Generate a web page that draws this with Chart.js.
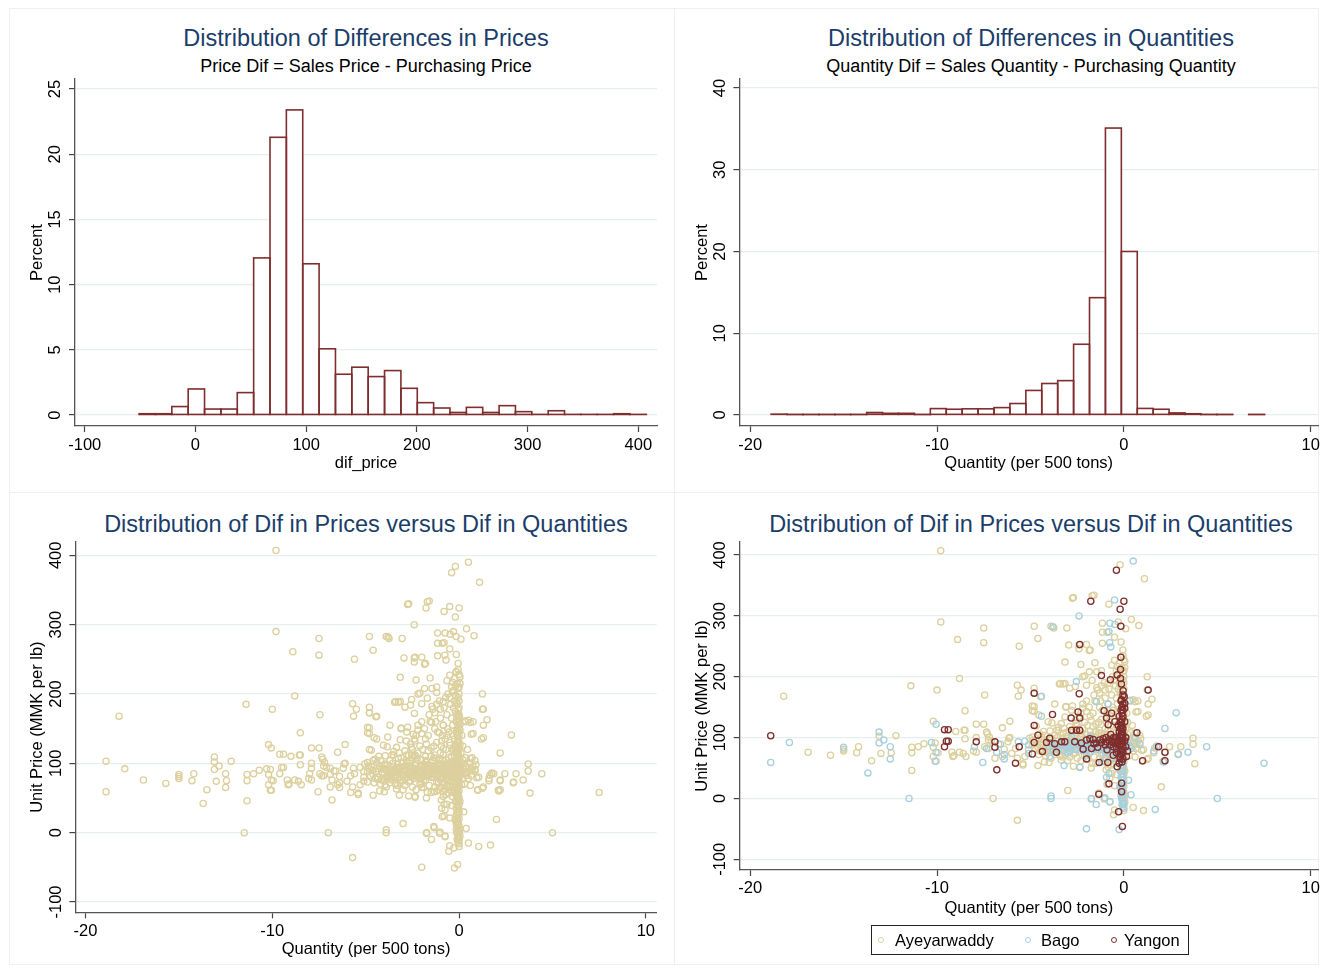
<!DOCTYPE html>
<html>
<head>
<meta charset="utf-8">
<script src="https://cdn.jsdelivr.net/npm/chart.js@4.4.1/dist/chart.umd.min.js"></script>
<style>
  body{margin:0;background:#fff;width:1327px;height:972px;position:relative;overflow:hidden;font-family:'Liberation Sans',Arial,sans-serif;}
  canvas{position:absolute;}
  .frame{position:absolute;box-sizing:border-box;border:1px solid #efefef;}
  .vline{position:absolute;width:1px;background:#efefef;}
  .hline{position:absolute;height:1px;background:#efefef;}
  .ttl{position:absolute;width:700px;text-align:center;color:#1b3d6a;font-size:23.5px;line-height:23.5px;white-space:nowrap;}
  .sub{position:absolute;width:700px;text-align:center;color:#000;font-size:18px;line-height:18px;white-space:nowrap;}
  #legend{position:absolute;left:871px;top:925px;width:318px;height:30px;box-sizing:border-box;border:1px solid #222;}
  #legend span{position:absolute;top:0;line-height:28px;font-size:16.5px;color:#000;}
  #legend i{position:absolute;top:11px;width:6px;height:6px;box-sizing:border-box;border:1.3px solid;border-radius:50%;}
</style>
</head>
<body>
<div class="frame" style="left:9px;top:8px;width:1310px;height:957px"></div>
<div class="vline" style="left:674px;top:8px;height:957px"></div>
<div class="hline" style="left:9px;top:492px;width:1310px"></div>

<div class="ttl" style="left:16px;top:27px">Distribution of Differences in Prices</div>
<div class="sub" style="left:16px;top:57px">Price Dif = Sales Price - Purchasing Price</div>
<div class="ttl" style="left:681px;top:27px">Distribution of Differences in Quantities</div>
<div class="sub" style="left:681px;top:57px">Quantity Dif = Sales Quantity - Purchasing Quantity</div>
<div class="ttl" style="left:16px;top:513px">Distribution of Dif in Prices versus Dif in Quantities</div>
<div class="ttl" style="left:681px;top:513px">Distribution of Dif in Prices versus Dif in Quantities</div>

<canvas id="cPrice" width="665" height="484" style="left:9px;top:8px"></canvas>
<canvas id="cQty" width="653" height="484" style="left:674px;top:8px"></canvas>
<canvas id="cAll" width="665" height="472" style="left:9px;top:492px"></canvas>
<canvas id="cRegion" width="653" height="472" style="left:674px;top:492px"></canvas>

<div id="legend">
  <i style="left:6px;border-color:#dcd09e"></i><span style="left:23px">Ayeyarwaddy</span>
  <i style="left:153px;border-color:#a7d0de"></i><span style="left:169px">Bago</span>
  <i style="left:239px;border-color:#7f2d2d"></i><span style="left:252px">Yangon</span>
</div>

<script>
// ---- data ----
const priceBinMid = [-43.51,-28.73,-13.95,0.83,15.61,30.39,45.17,59.95,74.73,89.51,104.29,119.07,133.85,148.63,163.41,
  178.19,192.97,207.75,222.53,237.31,252.09,266.87,281.65,296.43,311.21,325.99,340.77,355.55,370.33,385.11,399.89];
const pricePct = [0.1,0.1,0.65,2.0,0.46,0.46,1.72,12.05,21.3,23.4,11.6,5.08,3.13,3.67,2.95,
  3.41,2.05,0.95,0.54,0.2,0.59,0.2,0.72,0.26,0.05,0.33,0.05,0.05,0.05,0.1,0.05];

const qtyBinMid = [-18.454,-17.602,-16.75,-15.898,-15.046,-14.194,-13.342,-12.49,-11.638,-10.786,-9.934,-9.082,-8.23,
  -7.378,-6.526,-5.674,-4.822,-3.97,-3.118,-2.266,-1.414,-0.562,0.29,1.142,1.994,2.846,3.698,4.55,5.402,6.254,7.106];
const qtyPct = [0.1,0.05,0.05,0.05,0.05,0.05,0.3,0.2,0.2,0.05,0.78,0.7,0.75,
  0.75,0.9,1.4,3.0,3.85,4.2,8.65,14.35,35.1,20.0,0.8,0.7,0.25,0.15,0.05,0.05,0,0.05];

// [quantity dif, unit price dif]
const ayeyarwaddy = [
  [-9.8,407],[-9.8,290],[-8.9,261],[-7.5,280],[-7.5,256],[-5.6,250],[-4.8,283],[-8.8,197],[-11.4,185],[-10.0,178],
  [-18.2,168],[-7.45,170],[-5.7,186],[-5.5,178],[-5.65,168],[-8.5,144],[-10.2,127],[-7.9,122],[-7.5,122],[-6.1,127],
  [-6.5,116],[-9.0,110],[-8.5,112],[-7.35,109],[-12.2,103],[-8.5,98],[-7.9,100],[-7.2,101],[-6.1,100],[-10.7,90],
  [-11.0,85],[-11.35,84],[-11.35,75],[-14.2,85],[-14.3,75],[-15.0,81],[-15.0,78],[-16.9,76],[-15.7,71],[-13.5,62],
  [-13.0,74],[-12.45,75],[-13.1,102],[-11.35,46],[-10.2,69],[-10.2,84],[-9.2,76],[-9.1,70],[-8.8,76],[-8.6,74],
  [-8.45,69],[-8.05,78],[-7.9,76],[-7.45,85],[-7.1,94],[-6.9,66],[-6.7,89],[-6.4,81],[-6.2,93],[-6.0,74],
  [-5.8,82],[-5.7,66],[-5.4,57],[-5.3,69],[-5.1,80],[-5.05,99],[-4.9,101],[-4.9,144],[-4.9,152],[-4.8,181],
  [-7.0,0],[-5.7,-36],[-10.1,91],[-9.95,75],[-10.05,61],[-9.15,69],[-8.55,112],[-7.3,106],[-7.25,96],[-7.25,82],
  [-6.5,69],[-6.15,99],[-5.4,55],[-4.8,173],[-4.45,167],[-4.8,151],[-4.8,143],[-4.7,119],[-4.6,54],[-3.9,283],
  [-3.75,280],[-3.7,155],[-3.85,124],[-4.0,59],[-3.45,188],[-3.25,188],[-3.15,224],[-3.1,150],[-3.05,280],[-2.95,252],
  [-3.0,13],[-2.75,329],[-2.4,252],[-2.4,246],[-2.3,220],[-2.1,201],[-2.0,253],[-1.85,243],[-1.7,333],[-1.75,-1],
  [-1.55,223],[-1.35,9],[-1.15,288],[-1.15,273],[-0.9,273],[-1.15,255],[-0.8,319],[-0.2,384],[1.1,361],[-2.7,330],
  [-1.6,334],[0.4,294],[0.8,284],[-4.6,263],[-1.8,244],[-0.3,290],[0.1,279],[-0.5,265],[-0.15,257],[-0.05,244],
  [-1.85,208],[-2.2,200],[-1.45,208],[-1.2,210],[-3.4,189],[-3.15,189],[-2.9,181],[-2.6,184],[-2.0,186],[-1.7,194],
  [-1.4,178],[-1.3,173],[-1.0,178],[-0.85,189],[-0.65,219],[-0.5,227],[-0.35,217],[-0.05,208],[1.25,200],[1.5,163],
  [1.3,155],[0.75,160],[0.75,143],[1.3,137],[-3.1,151],[-2.75,152],[-2.2,148],[-2.0,143],[-4.55,137],[-4.05,126],
  [-3.35,123],[-3.15,134],[-4.3,110],[-3.95,111],[-3.5,112],[-3.25,107],[-2.55,123],[-2.35,110],[-1.65,118],[-1.3,112],
  [-1.2,107],[0.5,162],[0.65,91],[0.85,91],[1.05,80],[1.3,66],[2.0,19],[2.45,85],[3.05,85],[3.7,99],
  [3.7,89],[3.8,57],[0.5,-15],[1.05,-20],[-0.55,-27],[-0.5,-19],[-4.25,60],[-3.35,63],[-2.7,53],[-2.35,52],
  [-1.75,50],[-0.95,47],[-0.65,41],[-0.4,39],[1.25,178],[1.2,135],[0.65,142],[0.6,159],[0.35,160],[0.6,107],
  [0.7,89],[0.95,79],[1.0,61],[1.25,64],[1.65,83],[1.75,86],[1.6,75],[2.1,61],[2.2,75],[2.9,72],
  [-0.75,-6],[-1.05,-1],[-0.9,23],[-0.75,33],[-0.5,21],[-0.15,13],
  [-4.9,88],[-4.7,95],[-4.6,84],[-4.5,78],[-4.4,101],[-4.3,92],[-4.2,70],[-4.1,86],[-4.0,97],[-4.0,76],
  [-3.9,90],[-3.8,82],[-3.7,104],[-3.7,72],[-3.6,94],[-3.5,86],[-3.5,117],[-3.4,79],[-3.3,99],[-3.3,68],
  [-3.2,88],[-3.1,108],[-3.1,76],[-3.0,95],[-3.0,84],[-3.0,62],[-2.9,91],[-2.9,118],[-2.8,80],[-2.8,102],
  [-2.7,73],[-2.7,96],[-2.6,86],[-2.6,128],[-2.5,108],[-2.5,66],[-2.4,93],[-2.4,78],[-2.3,100],[-2.3,140],
  [-2.2,84],[-2.2,115],[-2.1,70],[-2.1,95],[-2.0,88],[-2.0,105],[-2.0,160],[-1.9,92],[-1.9,75],[-1.8,110],
  [-1.8,135],[-1.7,85],[-1.7,98],[-1.6,68],[-1.6,170],[-1.5,90],[-1.5,122],[-1.5,58],[-1.4,104],[-1.4,80],
  [-1.3,95],[-1.3,150],[-1.2,72],[-1.2,88],[-1.2,130],[-1.1,100],[-1.1,62],[-1.0,92],[-1.0,115],[-1.0,165],
  [-1.0,78],[-0.9,85],[-0.9,105],[-0.9,140],[-0.8,95],[-0.8,70],[-0.8,180],[-0.7,88],[-0.7,120],[-0.7,55],
  [-0.6,100],[-0.6,150],[-0.6,75],[-0.5,92],[-0.5,130],[-0.5,195],[-0.4,83],[-0.4,110],[-0.4,165],[-0.4,60],
  [-0.3,97],[-0.3,140],[-0.3,205],[-0.2,88],[-0.2,120],[-0.2,175],[-0.2,45],[-0.1,95],[-0.1,150],[-0.1,215],
  [-0.1,70],[-0.1,185],[0,100],[0,160],[0,130],[0,228],[0,80],[0,30],[0,0],[0.1,90],
  [0.1,115],[0.2,105],[0.3,85],[0.4,95],[0.5,78],[-0.05,195],[-0.05,110],[-0.05,50],[-0.15,232],[-0.25,222],
  [-4.85,96],[-4.75,82],[-4.65,90],[-4.55,72],[-4.45,88],[-4.35,80],[-4.25,96],[-4.15,76],[-4.05,92],[-4.5,106],
  [-4.2,104],[-3.95,80],[-3.85,98],[-3.75,86],[-3.65,78],[-3.55,100],[-3.45,90],[-3.35,83],[-3.25,94],[-3.15,72],
  [-3.05,102],[-3.9,66],[-3.6,112],[-3.4,70],[-3.2,115],[-2.95,87],[-2.85,96],[-2.75,84],[-2.65,104],[-2.55,92],
  [-2.45,84],[-2.35,97],[-2.25,106],[-2.15,89],[-2.05,78],[-2.9,68],[-2.7,112],[-2.5,120],[-2.3,62],[-2.1,125],
  [-2.6,75],[-2.4,135],[-2.2,155],[-2.8,145],[-1.95,98],[-1.85,88],[-1.75,104],[-1.65,92],[-1.55,84],[-1.45,97],
  [-1.35,108],[-1.25,93],[-1.15,84],[-1.05,104],[-1.95,120],[-1.85,150],[-1.75,128],[-1.65,140],[-1.55,160],[-1.45,182],
  [-1.35,125],[-1.25,160],[-1.15,145],[-1.05,190],[-1.9,65],[-1.7,58],[-1.3,66],[-1.1,72],[-1.5,110],[-1.2,185],
  [-0.95,97],[-0.85,112],[-0.75,98],[-0.65,86],[-0.55,108],[-0.45,95],[-0.35,120],[-0.25,102],[-0.15,90],[-0.95,125],
  [-0.85,155],[-0.75,135],[-0.65,170],[-0.55,145],[-0.45,185],[-0.35,155],[-0.25,190],[-0.15,170],[-0.95,65],[-0.85,52],
  [-0.75,62],[-0.65,68],[-0.55,57],[-0.45,73],[-0.35,66],[-0.25,62],[-0.15,55],[-0.6,200],[-0.4,210],[-0.2,198],
  [-0.3,180],[0,210],[0,200],[0,190],[0,180],[0,170],[0,150],[0,140],[0,120],[0,110],
  [0,90],[0,70],[0,60],[0,50],[0,40],[0,20],[0,10],[0,-10],[0,-20],[0.05,225],
  [0.05,215],[-0.05,235],[-0.05,165],[-0.05,125],[-0.05,30],[-0.05,15],[0.05,45],[0.05,5],[0.05,-5],[0.15,100],
  [0.25,92],[0.35,108],[0.45,88],[0.55,100],[0.65,82],[0.75,95],[0.85,104],[0.2,125],[0.3,70],[0.45,120],
  [0.15,140],[0.6,68],[0.9,98]
];
const bago = [
  [-18.9,59],[-17.9,92],[-15.0,84],[-13.1,109],[-13.1,91],[-12.85,96],[-12.5,85],[-12.5,65],[-13.7,42],[-11.5,0],
  [-10.3,92],[-10.05,122],[-10.05,76],[-10.1,61],[-8.0,85],[-7.55,59],[-7.35,82],[-6.8,76],[-6.6,89],[-6.4,72],
  [-6.4,65],[-5.65,93],[-5.3,94],[-5.1,88],[-5.1,74],[0.5,390],[-0.5,326],[-2.4,300],[-3.8,282],[-0.75,288],
  [-0.8,274],[-0.48,286],[-0.76,256],[-0.7,249],[-2.54,192],[-4.41,168],[-4.41,135],[-1.47,159],[-0.84,155],[0.32,161],
  [2.8,141],[2.2,115],[1.75,85],[1.6,78],[0.86,89],[2.92,73],[3.43,76],[4.43,85],[7.5,58],[5.0,0],
  [2.13,60],[0.25,30],[0.38,6],[-0.04,-8],[0,-16],[1.68,-18],[-3.9,4],[-3.9,0],[-1.73,0],[-1.48,-10],
  [-1.02,1],[-0.75,-5],[-2.0,-50],[-0.25,-51],[-0.8,41],[-0.93,35],[-0.21,19],[-0.12,0],[-3.2,54],[-2.36,51],
  [-3.96,69],[-4.0,85],[-3.7,88],[-3.5,80],[-3.3,91],[-3.1,84],[-2.9,78],[-2.8,89],[-2.6,82],[-2.5,93],
  [-2.3,86],[-2.2,79],[-2.1,90],[-1.9,84],[-1.8,76],[-1.7,92],[-1.6,86],[-1.5,80],[-1.4,94],[-1.3,87],
  [-1.2,82],[-1.1,89],[-1.0,76],[-0.9,92],[-0.8,84],[-0.7,88],[-0.6,79],[-0.5,95],[-0.4,86],[-0.3,90],
  [-0.2,82],[-0.1,88],[-0.1,70],[-0.1,60],[-0.1,50],[-0.1,40],[-0.1,30],[-0.1,20],[-0.1,10],[-0.05,5],
  [-0.05,-5],[-0.05,65],[-0.05,45],[-0.05,25],[-0.15,55],[-0.15,35],[-0.15,15],[0,75],[0,-10],[0.2,92],
  [0.4,82],[0.6,100],[-1.2,60],[-0.6,66],[-2.8,100],[-1.8,102],[-2.0,70],
  [-3.9,92],[-3.8,80],[-3.6,85],[-3.4,88],[-3.2,79],[-3.0,90],[-2.95,83],[-2.7,86],[-2.55,80],[-2.4,89],
  [-2.25,83],[-2.05,86],[-1.95,80],[-1.85,90],[-1.65,82],[-1.55,89],[-1.35,80],[-1.25,92],[-1.15,85],[-1.05,80],
  [-0.95,87],[-0.85,78],[-0.75,93],[-0.65,84],[-0.55,88],[-0.45,80],[-0.35,93],[-0.25,85],[-0.15,92],[-0.05,80],
  [-0.1,0],[-0.1,-10],[-0.05,-14],[-0.1,90],[-0.1,78],[-0.1,65],[-0.05,55],[-0.05,35],[-0.05,15],[-0.15,45],
  [-0.15,25],[-0.15,5],[-0.2,70],[-0.3,60],[-1.0,66],[-2.0,95],[-3.0,75],[-0.4,100],[0.1,88],[0.3,86]
];
const yangon = [
  [-18.9,103],[-9.6,113],[-9.4,113],[-9.5,94],[-9.4,94],[-9.6,85],[-7.9,93],[-6.9,93],[-6.9,84],[-6.8,47],
  [-5.8,58],[-5.6,85],[-4.8,173],[-4.8,120],[-4.8,92],[-4.9,73],[-0.4,375],[-1.77,324],[0.0,324],[-0.2,311],
  [-0.16,283],[-2.36,253],[-0.16,232],[-0.18,212],[-1.2,202],[-0.72,195],[-0.36,203],[-0.18,197],[-0.13,188],[-0.04,177],
  [0.02,167],[0.05,156],[0.05,148],[-0.13,162],[1.3,178],[-2.39,172],[-3.82,138],[-2.45,142],[-2.36,132],[-2.82,132],
  [-1.06,144],[-0.66,140],[-0.93,132],[-0.48,126],[0.05,126],[-0.84,121],[-2.8,112],[-2.54,112],[-2.36,112],[0.7,108],
  [-0.2,115],[-0.12,104],[-4.6,104],[-4.14,92],[-3.97,99],[-3.7,90],[-3.34,93],[-3.16,93],[-2.63,93],[-2.27,91],
  [-2.0,96],[-1.82,98],[-1.64,97],[-1.47,91],[-1.29,96],[-1.11,98],[-0.93,93],[-0.75,88],[-0.57,85],[-0.39,82],
  [-4.36,77],[-3.61,76],[-2.18,81],[-1.73,82],[-0.9,80],[-0.57,71],[-0.21,69],[0.14,69],[-2.0,65],[-1.32,59],
  [-0.86,59],[-0.36,52],[-0.25,58],[1.86,85],[2.2,76],[2.2,62],[1.0,62],[-0.8,24],[-0.12,25],[-0.12,11],
  [-1.34,7],[-0.28,-22],[-0.08,-46],[-0.1,100],[-0.1,110],[-0.1,120],[-0.1,130],[-0.1,140],[-0.1,150],[-0.05,95],
  [-0.15,105],[-0.2,90],[-0.3,95],[-0.2,78],[-0.05,85],[-0.15,125],[-0.25,135],[-0.45,100],[-0.6,92],[-0.7,105],
  [-1.0,88],[-1.4,84],[-0.05,65],[-0.15,72],[0.1,85],[0.2,78],
  [-0.05,105],[-0.05,115],[-0.05,135],[-0.05,145],[-0.05,155],[-0.05,170],[-0.15,95],[-0.15,115],[-0.15,145],[-0.15,160],
  [-0.2,100],[-0.2,125],[-0.25,110],[-0.25,88],[-0.3,120],[-0.35,95],[-0.4,90],[-0.5,96],[-0.55,100],[-0.65,94],
  [-0.8,96],[-0.95,100],[-1.2,92],[-1.6,90],[-0.05,75],[-0.1,80],[-0.1,90],[0.05,95],[0.1,100],[-0.1,60],
  [-0.2,65],[-0.4,75]
];

const priceTicks = [-100,0,100,200,300,400];
const pricePctTicks = [0,5,10,15,20,25];
const qtyTicks = [-20,-10,0,10];
const qtyPctTicks = [0,10,20,30,40];
const unitPriceTicks = [-100,0,100,200,300,400];

// ---- styling ----
const FONT = "'Liberation Sans', Arial, Helvetica, sans-serif";
const MAROON = '#7f2d2d', SAND = '#dcd09e', LTBLUE = '#a7d0de';
const GRID = '#e6eef0', AXIS = '#555555';

function pts(arr){ return arr.map(([x,y])=>({x,y})); }

function axis(o){
  const a = {
    type:'linear', min:o.min, max:o.max, offset:false,
    afterBuildTicks: s => { s.ticks = o.ticks.map(v=>({value:v})); },
    border:{display:true, color:AXIS, width:1.3},
    ticks:{font:{family:FONT,size:16.5}, color:'#000', autoSkip:false, padding:o.labPad, callback:v=>String(v)},
    title:{display:true, text:o.title, color:'#000', font:{family:FONT,size:16.5}}
  };
  if(o.dir==='x'){
    a.afterFit = s => { s.height = o.size; };
    a.grid = {offset:false, drawOnChartArea:false, tickLength:6, tickColor:'#444', tickWidth:1.2};
    a.ticks.maxRotation = 0; a.ticks.minRotation = 0;
    a.title.padding = {top:0, bottom:0};
  } else {
    a.afterFit = s => { s.width = o.size; };
    a.grid = {color:GRID, lineWidth:1.2, tickLength:6, tickColor:'#444', tickWidth:1.2};
    a.ticks.minRotation = 90; a.ticks.maxRotation = 90; a.ticks.crossAlign = 'center';
    a.title.padding = {top:19, bottom:0};
  }
  return a;
}

// stata-like bar outlines (stroke centred on the bar edges)
const outlineBars = {
  id:'outlineBars',
  afterDatasetsDraw(chart){
    const ctx = chart.ctx;
    const meta = chart.getDatasetMeta(0);
    const vals = chart.data.datasets[0].data;
    ctx.save();
    ctx.strokeStyle = MAROON; ctx.lineWidth = 1.6;
    meta.data.forEach((bar,i)=>{
      if(!vals[i].y) return;
      const p = bar.getProps(['x','y','base','width'], true);
      ctx.strokeRect(p.x - p.width/2, Math.min(p.y,p.base), p.width, Math.abs(p.base-p.y));
    });
    ctx.restore();
  }
};

function makeChart(id, type, datasets, o, plugins){
  return new Chart(document.getElementById(id), {
    type, data:{datasets},
    plugins: plugins || [],
    options:{
      responsive:false, animation:false,
      layout:{autoPadding:false, padding:o.pad},
      plugins:{legend:{display:false}, tooltip:{enabled:false}},
      scales:{ x: axis(Object.assign({dir:'x'}, o.x)), y: axis(Object.assign({dir:'y'}, o.y)) }
    }
  });
}

function hist(mid, pct){
  return [{data: mid.map((x,i)=>({x, y:pct[i]})), backgroundColor:'#fff', borderWidth:0,
           barPercentage:1, categoryPercentage:1}];
}
function scat(arr, color, order){
  return {data:pts(arr), pointStyle:'circle', pointRadius:3.1, pointBorderWidth:1.3,
          borderColor:color, pointBorderColor:color, backgroundColor:'rgba(0,0,0,0)', order};
}

makeChart('cPrice','bar', hist(priceBinMid, pricePct), {
  pad:{top:71,right:17,bottom:19.1,left:0},
  x:{min:-108.8,max:416.9,ticks:priceTicks,title:'dif_price',size:46.9,labPad:3.5},
  y:{min:-0.84,max:25.77,ticks:pricePctTicks,title:'Percent',size:66,labPad:4.2}
}, [outlineBars]);

makeChart('cQty','bar', hist(qtyBinMid, qtyPct), {
  pad:{top:71,right:9,bottom:19.1,left:0},
  x:{min:-20.58,max:10.39,ticks:qtyTicks,title:'Quantity (per 500 tons)',size:46.9,labPad:3.5},
  y:{min:-1.35,max:41.1,ticks:qtyPctTicks,title:'Percent',size:65.4,labPad:4.2}
}, [outlineBars]);

makeChart('cAll','scatter', [scat(ayeyarwaddy.concat(bago, yangon), SAND, 1)], {
  pad:{top:50,right:17.3,bottom:5.1,left:0},
  x:{min:-20.54,max:10.58,ticks:qtyTicks,title:'Quantity (per 500 tons)',size:46.6,labPad:3},
  y:{min:-114.9,max:419.2,ticks:unitPriceTicks,title:'Unit Price (MMK per lb)',size:66.4,labPad:-3.1}
});

makeChart('cRegion','scatter', [scat(ayeyarwaddy, SAND, 3), scat(bago, LTBLUE, 2), scat(yangon, MAROON, 1)], {
  pad:{top:50,right:9,bottom:46,left:0},
  x:{min:-20.56,max:10.39,ticks:qtyTicks,title:'Quantity (per 500 tons)',size:48,labPad:3},
  y:{min:-117.6,max:421.4,ticks:unitPriceTicks,title:'Unit Price (MMK per lb)',size:65.7,labPad:-3.1}
});
</script>
</body>
</html>
